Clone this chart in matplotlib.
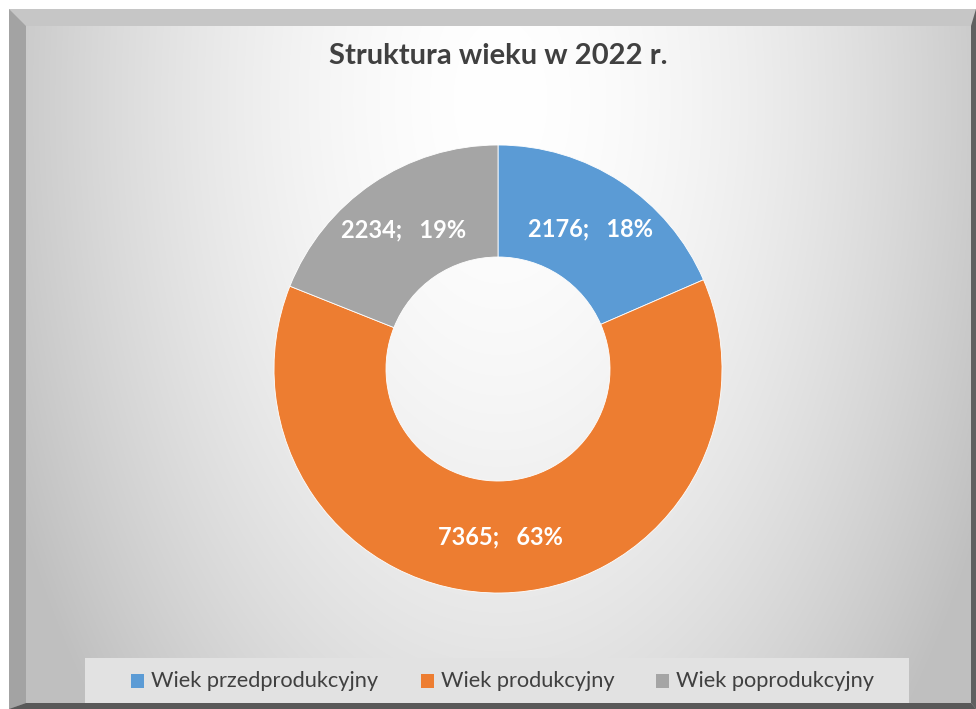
import numpy as np
import matplotlib
matplotlib.use('Agg')
import matplotlib.pyplot as plt
from matplotlib.patches import Polygon, Rectangle

plt.rcParams['font.family'] = 'Lato'

title = 'Struktura wieku w 2022 r.'
categories = ['Wiek przedprodukcyjny', 'Wiek produkcyjny', 'Wiek poprodukcyjny']
values = [2176, 7365, 2234]
colors = ['#5b9bd5', '#ed7d31', '#a5a5a5']

W, H = 976, 709
fig = plt.figure(figsize=(W / 100, H / 100), dpi=100)
fig.patch.set_facecolor('white')

# background frame (pixel coordinates)
bg = fig.add_axes([0, 0, 1, 1])
bg.set_xlim(0, W)
bg.set_ylim(H, 0)
bg.axis('off')

yy, xx = np.mgrid[0:H, 0:W]
d = np.sqrt(((xx - 500) / 520.0) ** 2 + ((yy - 100) / 900.0) ** 2)
v = np.clip(1 - 0.235 * d ** 1.7, 0.75, 1)
grad = np.dstack([v, v, v])
bg.imshow(grad, extent=[0, W, H, 0], zorder=0)

# bevel bands
bg.add_patch(Polygon([[9, 9], [976, 9], [972, 26], [26, 26]], closed=True,
                     facecolor='#c6c6c6', edgecolor='none', zorder=1))
bg.add_patch(Polygon([[9, 9], [26, 26], [26, 703], [9, 709]], closed=True,
                     facecolor='#a3a3a3', edgecolor='none', zorder=1))
bg.add_patch(Polygon([[976, 9], [976, 709], [971, 703], [971, 26]], closed=True,
                     facecolor='#606060', edgecolor='none', zorder=1))
bg.add_patch(Polygon([[9, 709], [976, 709], [971, 703], [26, 703]], closed=True,
                     facecolor='#595959', edgecolor='none', zorder=1))
bg.add_patch(Rectangle((0, 0), 9, H, facecolor='white', edgecolor='none', zorder=2))
bg.add_patch(Rectangle((0, 0), W, 9, facecolor='white', edgecolor='none', zorder=2))

# legend box
bg.add_patch(Rectangle((85, 658), 824, 45, facecolor='#e2e2e2', edgecolor='none', zorder=2))

bg.text(498, 56, title, ha='center', va='center', fontsize=21, fontweight='bold',
        color='#404040', zorder=3)

# donut
cx, cy, R = 498, 369, 224
ax = fig.add_axes([(cx - R) / W, 1 - (cy + R) / H, 2 * R / W, 2 * R / H])
wedges, _ = ax.pie(values, colors=colors, startangle=90, counterclock=False,
                   radius=1, wedgeprops=dict(width=0.5, edgecolor='white', linewidth=0.6))
ax.set_xlim(-1, 1)
ax.set_ylim(-1, 1)
ax.set_aspect('auto')

total = sum(values)
for w, val in zip(wedges, values):
    ang = np.deg2rad((w.theta1 + w.theta2) / 2)
    r = 0.75
    ax.text(r * np.cos(ang), r * np.sin(ang),
            f'{val};   {round(100 * val / total)}%',
            ha='center', va='center', fontsize=17, fontweight='bold', color='white')

# legend
leg_x = [131, 421, 656]
for x, c, lab in zip(leg_x, colors, categories):
    bg.add_patch(Rectangle((x, 674), 13, 14, facecolor=c, edgecolor='none', zorder=3))
    bg.text(x + 20, 681, lab, ha='left', va='center', fontsize=15.7,
            color='#404040', zorder=3)

fig.savefig('out.png', dpi=100)
